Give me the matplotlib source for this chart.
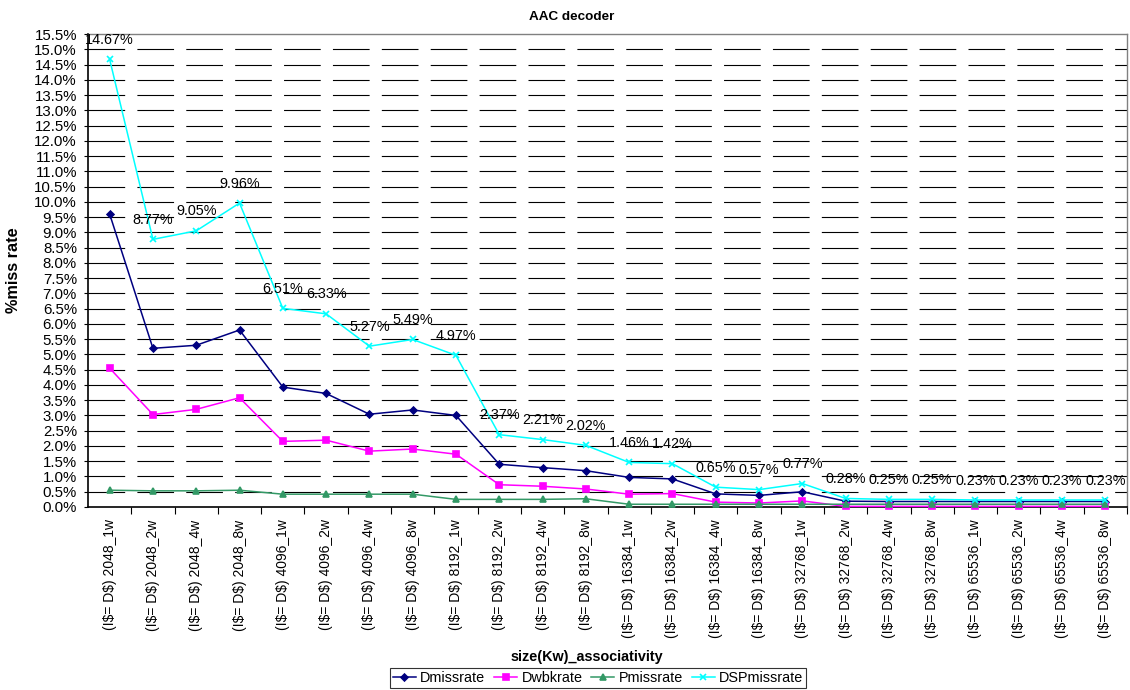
import matplotlib
matplotlib.use("Agg")
import matplotlib.pyplot as plt
from matplotlib.ticker import FixedLocator, FuncFormatter
from matplotlib.lines import Line2D

plt.rcParams['font.family'] = ['Liberation Sans', 'DejaVu Sans']

categories = [
    "2048_1w", "2048_2w", "2048_4w", "2048_8w",
    "4096_1w", "4096_2w", "4096_4w", "4096_8w",
    "8192_1w", "8192_2w", "8192_4w", "8192_8w",
    "16384_1w", "16384_2w", "16384_4w", "16384_8w",
    "32768_1w", "32768_2w", "32768_4w", "32768_8w",
    "65536_1w", "65536_2w", "65536_4w", "65536_8w",
]
tick_labels = [r"(I\$= D\$) " + c for c in categories]

# miss rates in percent
dmissrate = [9.60, 5.20, 5.30, 5.80, 3.93, 3.72, 3.04, 3.18,
             3.00, 1.40, 1.29, 1.19, 0.97, 0.92, 0.43, 0.38,
             0.50, 0.19, 0.18, 0.18, 0.18, 0.18, 0.18, 0.18]
dwbkrate = [4.55, 3.03, 3.20, 3.58, 2.15, 2.19, 1.83, 1.90,
            1.73, 0.73, 0.68, 0.59, 0.42, 0.44, 0.16, 0.13,
            0.20, 0.02, 0.02, 0.02, 0.02, 0.02, 0.02, 0.02]
pmissrate = [0.55, 0.53, 0.53, 0.55, 0.42, 0.42, 0.42, 0.42,
             0.25, 0.25, 0.25, 0.27, 0.09, 0.09, 0.09, 0.09,
             0.09, 0.09, 0.09, 0.09, 0.09, 0.09, 0.09, 0.09]
dspmissrate = [14.67, 8.77, 9.05, 9.96, 6.51, 6.33, 5.27, 5.49,
               4.97, 2.37, 2.21, 2.02, 1.46, 1.42, 0.65, 0.57,
               0.77, 0.28, 0.25, 0.25, 0.23, 0.23, 0.23, 0.23]

series = [
    ("Dmissrate", dmissrate, "#000080", "D", 3.5),
    ("Dwbkrate", dwbkrate, "#FF00FF", "s", 4.5),
    ("Pmissrate", pmissrate, "#339966", "^", 4.5),
    ("DSPmissrate", dspmissrate, "#00FFFF", "x", 5),
]

fig = plt.figure(figsize=(11.3, 6.9), dpi=100)
ax = fig.add_axes([88 / 1130, 1 - 507 / 690, (1127 - 88) / 1130, (507 - 34) / 690])

x = list(range(len(categories)))

# dashed horizontal grid
yticks = [i * 0.5 for i in range(32)]
for y in yticks[1:-1]:
    ax.axhline(y, color="black", lw=0.8, linestyle=(0, (33, 11)), zorder=1)

handles = []
for name, vals, color, marker, ms in series:
    ax.plot(x, vals, color=color, lw=1.1, marker=marker, ms=ms,
            mew=1.2, mfc=color, mec=color, zorder=3, clip_on=False)
    handles.append(Line2D([0], [0], color=color, lw=1.1, marker=marker,
                          ms=ms, mfc=color, mec=color, mew=1.2))

for xi, v in zip(x, dspmissrate):
    ax.annotate(f"{v:.2f}%", (xi, v), xytext=(0, 14), textcoords="offset points",
                ha="center", va="center", fontsize=10.4, color="black", zorder=4)

ax.set_xlim(-0.5, len(categories) - 0.5)
ax.set_ylim(0, 15.5)

ax.yaxis.set_major_locator(FixedLocator(yticks))
ax.yaxis.set_major_formatter(FuncFormatter(lambda v, p: f"{v:.1f}%"))
ax.tick_params(axis="y", direction="out", length=3, width=0.8, labelsize=10.8, pad=5)

ax.set_xticks(x)
ax.set_xticklabels(tick_labels, rotation=90, fontsize=10, va="top")
ax.tick_params(axis="x", which="major", length=0, pad=9)
ax.set_xticks([i - 0.5 for i in range(1, len(categories) + 1)], minor=True)
ax.tick_params(axis="x", which="minor", direction="out", length=5, width=0.8)

for side in ("left", "bottom"):
    ax.spines[side].set_color("black")
    ax.spines[side].set_linewidth(1.2)
for side in ("top", "right"):
    ax.spines[side].set_color("#808080")
    ax.spines[side].set_linewidth(1.0)

fig.text(572 / 1130, 1 - 17 / 690, "AAC decoder", ha="center", va="center",
         fontsize=9.7, fontweight="bold")
fig.text(14 / 1130, 1 - 270 / 690, "%miss rate", ha="center", va="center",
         rotation=90, fontsize=11.7, fontweight="bold")
fig.text(587 / 1130, 1 - 657 / 690, "size(Kw)_associativity", ha="center",
         va="center", fontsize=10.4, fontweight="bold")

leg = fig.legend(handles, [s[0] for s in series], loc="center",
                 bbox_to_anchor=(598 / 1130, 1 - 678 / 690), ncol=4,
                 frameon=True, fancybox=False, fontsize=10.4,
                 handlelength=1.6, handletextpad=0.3, columnspacing=0.6,
                 borderpad=0.2, borderaxespad=0)
leg.get_frame().set_edgecolor("black")
leg.get_frame().set_linewidth(0.8)

fig.savefig("out.png", dpi=100)
